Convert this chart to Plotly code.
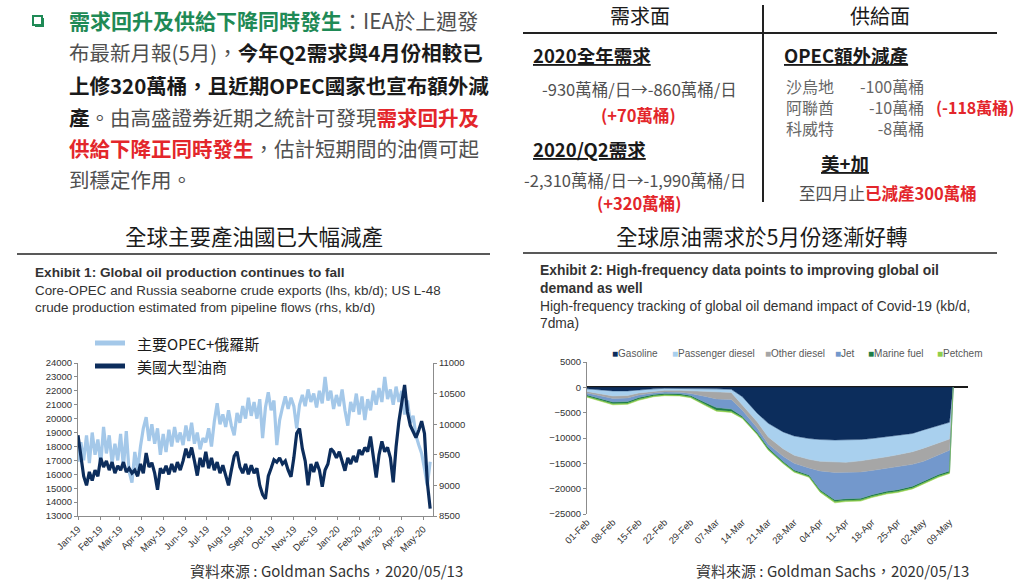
import pandas as pd
import plotly.graph_objects as go

W, H = 1024, 583

# ---- Exhibit 1: production (every 4 days, Jan-19 .. May-20) ----
prod_dates = pd.date_range('2019-01-01', periods=125, freq='4D')

# Core-OPEC + Russia seaborne exports, kb/d (lhs)
opec_russia = [
    16900, 18300, 17000, 18800, 16800, 19000, 17400, 18500,
    16700, 19400, 17500, 18800, 16800, 18200, 17000,
    18900, 16500, 19100, 16200, 15400, 17600, 16300, 18000,
    19300, 20100, 18400, 19600, 18200, 19300, 17400, 18900,
    17600, 19200, 18000, 19400, 18300, 19000, 18100,
    19500, 18400, 19700, 18200, 19000, 17800, 18600,
    18300, 19300, 18000, 19800, 21100, 19600, 20300, 19400,
    20600, 19500, 18800, 20400, 19700, 20900, 20000, 21500,
    20200, 21200, 20000, 21400, 18600, 20800, 21900, 20600,
    21300, 18100, 19900, 20800, 21600, 20700, 21500,
    20900, 19300, 21000, 21700, 20900, 22100, 21200, 21800,
    20800, 22000, 21100, 23000, 21300, 22000, 20700, 21700,
    20900, 22100, 20600, 19500, 21200, 20500, 21800,
    20300, 21600, 19900, 21400, 20600, 22000, 21000, 22200,
    21200, 23000, 21400, 22100, 21000, 22300, 21200, 22000,
    20300, 21300, 19700, 20200, 18800, 18100, 17500,
    16400, 15200, 16900,
]

# US L-48 crude production, kb/d (rhs)
us_l48 = [
    9820, 9450, 9150, 9000, 9220, 9080, 9250, 9150,
    9450, 9300, 9400, 9250, 9380, 9200, 9320,
    9250, 9380, 9220, 9280, 9200, 9250, 9150, 9350,
    9200, 9530, 9300, 9370, 9200, 8930, 9280, 9200,
    9320, 9180, 9350, 9220, 9380, 9250, 9400,
    9600, 9450, 9620, 9400, 9160, 9450, 9300,
    9550, 9280, 9450, 9250, 9380, 9200, 9330, 9150,
    9000, 9250, 9480, 9550, 9300, 9200, 9350, 9180,
    9330, 9200, 9280, 9000, 8850, 8780, 9150, 9280,
    9420, 9380, 9450, 9350, 9400, 9250, 9140,
    9450, 9850, 9930, 9600, 9400, 9000, 9350, 9220,
    9380, 9250, 8980, 9250, 9350, 9600, 9550, 9450,
    9550, 9400, 9240, 9450, 9350, 9480, 9380,
    9580, 9500, 9620, 9550, 9800, 9450, 9130, 9500,
    9720, 9550, 9620, 9450, 9050, 9630, 10050, 10350,
    10640, 10200, 9980, 9880, 9780, 9900, 10050,
    9850, 9050, 8620,
]

# ---- Exhibit 2: demand impact by product, kb/d ----
demand_dates = [
    '2020-02-01', '2020-02-05', '2020-02-08', '2020-02-12', '2020-02-15',
    '2020-02-19', '2020-02-22', '2020-02-26', '2020-02-29', '2020-03-04',
    '2020-03-07', '2020-03-11', '2020-03-14', '2020-03-18', '2020-03-21',
    '2020-03-25', '2020-03-28', '2020-04-01', '2020-04-04', '2020-04-08',
    '2020-04-11', '2020-04-15', '2020-04-18', '2020-04-22', '2020-04-25',
    '2020-04-29', '2020-05-02', '2020-05-06', '2020-05-09', '2020-05-10',
]
gasoline = [-300, -500, -700, -700, -500, -300, -200, -200, -200, -250,
            -300, -400, -1850, -5100, -7100, -8800, -9600, -10100, -10300, -10400,
            -10400, -10300, -10100, -9700, -9500, -9100, -8400, -7600, -6900, 0]
passenger_diesel = [-500, -800, -1000, -900, -600, -500, -400, -400, -500, -550,
                    -600, -600, -1650, -1700, -2700, -3300, -3800, -4100, -4300, -4300,
                    -4400, -4200, -4100, -4000, -3800, -3600, -3600, -3400, -3300, 0]
other_diesel = [-300, -400, -500, -500, -400, -300, -300, -350, -500, -1000,
                -1400, -1400, -1000, -1200, -1400, -1500, -1600, -1700, -1900, -2100,
                -2000, -2200, -2200, -2300, -2400, -2500, -2600, -2400, -2200, 0]
jet = [-400, -600, -700, -700, -500, -300, -300, -300, -400, -1200,
       -1700, -1900, -1200, -900, -700, -1000, -1300, -1400, -3700, -5400,
       -5200, -5200, -4800, -4500, -4500, -4300, -3900, -3800, -4100, 0]
marine_fuel = [-250, -300, -300, -300, -300, -250, -250, -250, -250, -350,
               -450, -400, -250, -250, -300, -250, -250, -250, -250, -300,
               -300, -300, -300, -300, -300, -300, -300, -300, -300, 0]
petchem = [-200, -250, -250, -250, -250, -200, -200, -200, -200, -250,
           -250, -250, -200, -200, -200, -200, -200, -200, -250, -300,
           -250, -250, -250, -250, -250, -250, -250, -250, -200, 0]

product_names = ['Gasoline', 'Passenger diesel', 'Other diesel', 'Jet', 'Marine fuel', 'Petchem']
product_values = [gasoline, passenger_diesel, other_diesel, jet, marine_fuel, petchem]
product_colors = ['#0c2d5c', '#a9d0ee', '#a6a6a6', '#7398cc', '#1f7d46', '#8fce4a']

# OPEC extra cuts
cut_countries = ['沙烏地', '阿聯酋', '科威特']
cut_amounts = ['-100萬桶', '-10萬桶', '-8萬桶']

CJK = 'Noto Sans CJK TC'
LAT = 'Liberation Sans'
GREEN = '#1f8a56'
RED = '#e3262b'
GRAY = '#505050'
DARK = '#1a1a1a'


def px(x):
    return x / W


def py(y):
    return 1 - y / H


fig = go.Figure()

fig.add_trace(go.Scatter(
    x=prod_dates, y=opec_russia, mode='lines', name='主要OPEC+俄羅斯',
    line=dict(color='#a4c8e9', width=3.2), xaxis='x', yaxis='y', showlegend=False
))
fig.add_trace(go.Scatter(
    x=prod_dates, y=us_l48, mode='lines', name='美國大型油商',
    line=dict(color='#0c2d5c', width=3.2), xaxis='x', yaxis='y2', showlegend=False
))

for name, vals, color in zip(product_names, product_values, product_colors):
    fig.add_trace(go.Scatter(
        x=demand_dates, y=vals, mode='lines', name=name, stackgroup='demand',
        line=dict(color=color, width=0.5), fillcolor=color,
        xaxis='x2', yaxis='y3', showlegend=False
    ))

tickfont = dict(size=9.5, color='#333333', family=LAT)

fig.update_layout(
    width=W, height=H,
    margin=dict(l=0, r=0, t=0, b=0),
    paper_bgcolor='white', plot_bgcolor='white',
    showlegend=False,
    xaxis=dict(
        domain=[px(78), px(433)], anchor='y', type='date', automargin=False,
        range=['2019-01-01', '2020-05-15'], tick0='2019-01-01', dtick='M1',
        tickformat='%b-%y', tickangle=-45, tickfont=tickfont,
        showline=True, linecolor='#8c8c8c', ticks='outside', ticklen=3,
        tickcolor='#8c8c8c', showgrid=False, zeroline=False
    ),
    yaxis=dict(
        domain=[py(516), py(363)], anchor='x', range=[13000, 24000], dtick=1000,
        automargin=False,
        tickformat='d', tickfont=tickfont, showline=True, linecolor='#8c8c8c',
        ticks='outside', ticklen=3, tickcolor='#8c8c8c', showgrid=False, zeroline=False
    ),
    yaxis2=dict(
        overlaying='y', side='right', anchor='x', range=[8500, 11000], dtick=500,
        automargin=False,
        tickformat='d', tickfont=tickfont, showline=True, linecolor='#8c8c8c',
        ticks='outside', ticklen=3, tickcolor='#8c8c8c', showgrid=False, zeroline=False
    ),
    xaxis2=dict(
        domain=[px(587), px(968)], anchor='y3', type='date', automargin=False,
        range=['2020-02-01', '2020-05-14'], tick0='2020-02-01', dtick=7 * 86400000,
        tickformat='%d-%b', tickangle=-45, tickfont=tickfont,
        showline=False, ticks='', showgrid=False, zeroline=False
    ),
    yaxis3=dict(
        domain=[py(514), py(362)], anchor='x2', range=[-25000, 5000], dtick=5000,
        automargin=False,
        tickformat='d', tickfont=tickfont, showline=True, linecolor='#8c8c8c',
        ticks='outside', ticklen=3, tickcolor='#8c8c8c', showgrid=False,
        zeroline=True, zerolinecolor='#1a1a1a', zerolinewidth=1.5
    ),
)


def note(text, x, y, size, color=GRAY, anchor='left', family=CJK):
    fig.add_annotation(
        text=text, x=px(x), y=py(y), xref='paper', yref='paper',
        xanchor=anchor, yanchor='middle', showarrow=False, borderpad=0,
        align=anchor if anchor != 'center' else 'center',
        font=dict(size=size, color=color, family=family)
    )


def hline(x0, x1, y, width=1.5, color='#222222'):
    fig.add_shape(type='line', xref='paper', yref='paper',
                  x0=px(x0), x1=px(x1), y0=py(y), y1=py(y),
                  line=dict(color=color, width=width))


# ---- top-left paragraph ----
fig.add_shape(type='rect', xref='paper', yref='paper',
              x0=px(35), x1=px(44), y0=py(27), y1=py(18),
              fillcolor=GREEN, line_width=0)
fig.add_shape(type='rect', xref='paper', yref='paper',
              x0=px(33), x1=px(42), y0=py(25), y1=py(16),
              fillcolor='white', line=dict(color=GREEN, width=2))

para = [
    f"<span style='color:{GREEN}'><b>需求回升及供給下降同時發生</b></span>：IEA於上週發",
    f"布最新月報(5月)，<span style='color:{DARK}'><b>今年Q2需求與4月份相較已</b></span>",
    f"<span style='color:{DARK}'><b>上修320萬桶，且近期OPEC國家也宣布額外減</b></span>",
    f"<span style='color:{DARK}'><b>產</b></span>。由高盛證券近期之統計可發現"
    f"<span style='color:{RED}'><b>需求回升及</b></span>",
    f"<span style='color:{RED}'><b>供給下降正同時發生</b></span>，估計短期間的油價可起",
    "到穩定作用。",
]
para_y = [20, 52, 85, 117, 148, 179]
para_size = [21, 20.5, 20.5, 20.5, 20.5, 20.5]
for text, y, size in zip(para, para_y, para_size):
    note(text, 68, y, size, GRAY)

# ---- top-right demand / supply table ----
hline(523, 997, 33, width=2)
fig.add_shape(type='line', xref='paper', yref='paper',
              x0=px(763), x1=px(763), y0=py(5), y1=py(202),
              line=dict(color='#222222', width=2))
note('需求面', 640, 15, 20, DARK, 'center')
note('供給面', 880, 15, 20, DARK, 'center')
note(f"<u><b>2020全年需求</b></u>", 532, 55, 18.5, DARK)
note('-930萬桶/日→-860萬桶/日', 639, 89, 16.5, GRAY, 'center')
note(f"<b>(+70萬桶)</b>", 638, 115, 16.5, RED, 'center')
note(f"<u><b>2020/Q2需求</b></u>", 532, 149, 18.5, DARK)
note('-2,310萬桶/日→-1,990萬桶/日', 635, 180, 16.5, GRAY, 'center')
note(f"<b>(+320萬桶)</b>", 639, 203, 16.5, RED, 'center')
note(f"<u><b>OPEC額外減產</b></u>", 783, 55, 18.5, DARK)
note('<br>'.join(cut_countries), 785, 107, 16, '#666666', 'left')
note('<br>'.join(cut_amounts), 925, 107, 16, '#666666', 'right')
note(f"<b>(-118萬桶)</b>", 935, 107, 16, RED)
note(f"<u><b>美+加</b></u>", 845, 163, 18.5, DARK, 'center')
note(f"至四月止<span style='color:{RED}'><b>已減產300萬桶</b></span>", 888, 193, 16.5, GRAY, 'center')

# ---- section titles ----
note('全球主要產油國已大幅減產', 254, 235, 21.5, DARK, 'center')
hline(17, 490, 254)
note('全球原油需求於5月份逐漸好轉', 761, 235, 21.5, DARK, 'center')
hline(523, 997, 253)

# ---- exhibit captions ----
note('<b>Exhibit 1: Global oil production continues to fall</b>', 34, 272, 13.6, '#333333', family=LAT)
note('Core-OPEC and Russia seaborne crude exports (lhs, kb/d); US L-48', 34, 290, 13.4, '#333333', family=LAT)
note('crude production estimated from pipeline flows (rhs, kb/d)', 34, 307, 13.4, '#333333', family=LAT)
note('<b>Exhibit 2: High-frequency data points to improving global oil</b>', 539, 270, 13.9, '#333333', family=LAT)
note('<b>demand as well</b>', 539, 288, 13.9, '#333333', family=LAT)
note('High-frequency tracking of global oil demand impact of Covid-19 (kb/d,', 539, 306, 13.8, '#333333', family=LAT)
note('7dma)', 539, 323, 13.8, '#333333', family=LAT)

# ---- legend of exhibit 1 ----
for color, label, y in zip(['#a4c8e9', '#0c2d5c'], ['主要OPEC+俄羅斯', '美國大型油商'], [343, 366]):
    hline(95, 125, y, width=5, color=color)
    note(label, 136, y, 15, DARK)

# ---- legend of exhibit 2 ----
legend_x = [611, 671, 764, 834, 867, 936]
for name, color, x in zip(product_names, product_colors, legend_x):
    note(f"<span style='color:{color}'>■</span>{name}", x, 353, 10, '#595959', family=LAT)

# ---- sources ----
note('資料來源 : Goldman Sachs，2020/05/13', 326, 570, 15, '#333333', 'center')
note('資料來源 : Goldman Sachs，2020/05/13', 832, 570, 15, '#333333', 'center')

fig.write_html('out.html', config={'displayModeBar': False},
               post_script="document.body.style.margin='0px';")
